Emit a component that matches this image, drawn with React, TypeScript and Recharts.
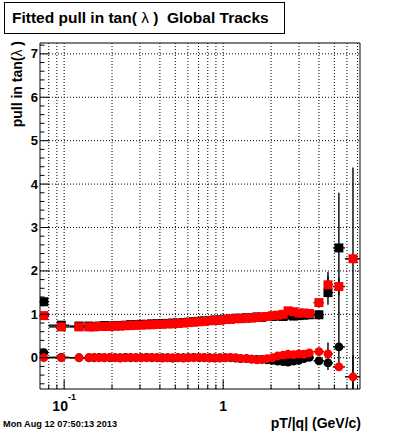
import React from 'react';
import { ScatterChart, Scatter, XAxis, YAxis, ReferenceLine, ReferenceArea, ErrorBar } from 'recharts';

// pT/|q| bin centres (GeV/c)
const pt = [0.0745, 0.096, 0.124,
  0.143, 0.154, 0.166, 0.179, 0.194, 0.209,
  0.225, 0.243, 0.262, 0.283, 0.305,
  0.330, 0.356, 0.384, 0.414, 0.447, 0.482,
  0.520, 0.561, 0.605, 0.653, 0.705,
  0.760, 0.820, 0.885, 0.955,
  1.03, 1.11, 1.20, 1.29, 1.40,
  1.51, 1.63, 1.75, 1.89,
  2.04, 2.20, 2.38, 2.56, 2.77, 2.99, 3.22, 3.48,
  4.0, 4.56, 5.34, 6.55];

const blackSigma: (number | null)[] = [1.29, 0.75, 0.73,
  0.73, 0.72, 0.73, 0.74, 0.73, 0.74,
  0.74, 0.75, 0.76, 0.76, 0.77,
  0.77, 0.78, 0.78, 0.79, 0.79, 0.80,
  0.80, 0.81, 0.82, 0.83, 0.84,
  0.85, 0.86, 0.87, 0.87,
  0.89, 0.89, 0.91, 0.91, 0.92,
  0.92, 0.94, 0.93, 0.95,
  0.95, 0.96, 0.95, 0.98, 0.96, 0.97, 0.98, 0.99,
  0.99, 1.50, 2.53, null];

const redSigma: (number | null)[] = [0.97, 0.71, 0.71,
  0.71, 0.71, 0.72, 0.72, 0.72, 0.73,
  0.73, 0.74, 0.74, 0.75, 0.75,
  0.76, 0.76, 0.77, 0.77, 0.78, 0.78,
  0.79, 0.80, 0.81, 0.82, 0.83,
  0.84, 0.85, 0.86, 0.87,
  0.88, 0.89, 0.90, 0.90, 0.91,
  0.92, 0.93, 0.94, 0.95,
  0.97, 0.98, 1.00, 1.08, 1.06, 1.03, 1.03, 1.02,
  1.27, 1.68, 1.64, 2.28];

const blackMean: (number | null)[] = [0.12, 0.01, 0.0,
  0.0, 0.0, 0.01, 0.0, 0.0, 0.0,
  0.0, 0.01, 0.0, 0.0, 0.0,
  0.01, 0.0, 0.0, 0.0, 0.0, -0.01,
  0.0, 0.0, 0.0, 0.01, 0.0,
  0.0, 0.0, -0.01, 0.0,
  0.0, 0.0, -0.01, -0.02, -0.02,
  -0.03, -0.04, -0.04, -0.05,
  -0.06, -0.08, -0.09, -0.10, -0.08, -0.06, -0.02, 0.01,
  -0.07, -0.12, 0.25, null];

const redMean: (number | null)[] = [0.0, 0.0, 0.0,
  0.0, 0.01, 0.0, 0.0, 0.01, 0.0,
  -0.01, 0.0, 0.01, 0.0, 0.0,
  0.0, 0.01, 0.0, -0.01, 0.0, 0.0,
  0.0, -0.01, 0.0, 0.0, 0.01,
  0.0, -0.01, 0.0, -0.01,
  0.0, 0.01, 0.0, -0.02, -0.02,
  -0.03, -0.05, -0.04, -0.02,
  0.0, 0.04, 0.06, 0.08, 0.07, 0.09, 0.08, 0.11,
  0.14, 0.09, -0.21, -0.44];

// horizontal (bin width) errors: index -> [low, high]
const xErrors: Record<number, [number, number]> = {
  0: [0.0045, 0.0055], 1: [0.016, 0.012], 2: [0.016, 0.017],
  46: [0.3, 0.3], 47: [0.26, 0.34], 48: [0.44, 0.49], 49: [0.72, 0.7],
};
// vertical errors: index -> [low, high]
const blackSigmaErr: Record<number, [number, number]> = { 47: [0.28, 0.48], 48: [1.5, 1.27] };
const redSigmaErr: Record<number, [number, number]> = { 47: [0.2, 0.2], 48: [0.2, 0.2], 49: [3.0, 2.1] };
const blackMeanErr: Record<number, [number, number]> = { 47: [0.16, 0.47], 48: [0.55, 0.8] };
const redMeanErr: Record<number, [number, number]> = { 49: [0.28, 0.5] };

const xDomain: [number, number] = [0.0705, 7.25];
const yDomain: [number, number] = [-0.72, 7.25];
const xTicks = [0.08, 0.09, 0.1, 0.2, 0.3, 0.4, 0.5, 0.6, 0.7, 0.8, 0.9, 1, 2, 3, 4, 5, 6, 7];
const xMajor = [0.1, 1];
const yMajor = [0, 1, 2, 3, 4, 5, 6, 7];
const yTicks = [-0.6, -0.4, -0.2, 0, 0.2, 0.4, 0.6, 0.8, 1, 1.2, 1.4, 1.6, 1.8, 2, 2.2, 2.4, 2.6, 2.8, 3,
  3.2, 3.4, 3.6, 3.8, 4, 4.2, 4.4, 4.6, 4.8, 5, 5.2, 5.4, 5.6, 5.8, 6, 6.2, 6.4, 6.6, 6.8, 7, 7.2];

const FONT = '"Liberation Sans", Arial, Helvetica, sans-serif';

function build(vals: (number | null)[], yErr: Record<number, [number, number]>) {
  const out: any[] = [];
  pt.forEach((x, i) => {
    const y = vals[i];
    if (y === null || y === undefined) return;
    out.push({ x, y, ex: xErrors[i] ?? [0, 0], ey: yErr[i] ?? [0, 0] });
  });
  return out;
}

const blackSigmaData = build(blackSigma, blackSigmaErr);
const redSigmaData = build(redSigma, redSigmaErr);
const blackMeanData = build(blackMean, blackMeanErr);
const redMeanData = build(redMean, redMeanErr);

const squareShape = (color: string) => (p: any) => (
  <rect x={p.cx - 4.5} y={p.cy - 4.5} width={9} height={9} fill={color} />
);
const circleShape = (color: string) => (p: any) => (
  <circle cx={p.cx} cy={p.cy} r={4.4} fill={color} />
);

const XTick = (props: any) => {
  const { x, y, payload } = props;
  const v = payload.value;
  const major = xMajor.some((m) => Math.abs(m - v) < 1e-9);
  return (
    <g>
      <line x1={x} x2={x} y1={y} y2={y - (major ? 9 : 4.5)} stroke="#000" />
      {Math.abs(v - 0.1) < 1e-9 && (
        <text x={x} y={y + 22} textAnchor="middle" fontFamily={FONT} fontWeight="bold" fontSize={14} fill="#000">
          10<tspan dy={-11} fontSize={9}>-1</tspan>
        </text>
      )}
      {Math.abs(v - 1) < 1e-9 && (
        <text x={x} y={y + 22} textAnchor="middle" fontFamily={FONT} fontWeight="bold" fontSize={14} fill="#000">
          1
        </text>
      )}
    </g>
  );
};

const YTick = (props: any) => {
  const { x, y, payload } = props;
  const v = payload.value;
  const major = yMajor.some((m) => Math.abs(m - v) < 1e-9);
  return (
    <g>
      <line x1={x} x2={x + (major ? 9 : 4.5)} y1={y} y2={y} stroke="#000" />
      {major && (
        <text x={x - 2} y={y + 4.5} textAnchor="end" fontFamily={FONT} fontWeight="bold" fontSize={13} fill="#000">
          {v}
        </text>
      )}
    </g>
  );
};

const errProps = { width: 0, stroke: '#000', strokeWidth: 1.4 };

export default function App() {
  return (
    <div style={{ position: 'absolute', left: 0, top: 0, width: 400, height: 433, background: '#fff' }}>
      <ScatterChart width={400} height={433} margin={{ top: 43, right: 40, bottom: 0, left: 0 }}>
        <XAxis
          type="number"
          dataKey="x"
          scale="log"
          domain={xDomain}
          allowDataOverflow
          ticks={xTicks}
          interval={0}
          tick={(p: any) => <XTick {...p} />}
          tickLine={false}
          axisLine={false}
          tickSize={0}
          tickMargin={0}
          height={44}
        />
        <YAxis
          type="number"
          dataKey="y"
          domain={yDomain}
          allowDataOverflow
          ticks={yTicks}
          interval={0}
          tick={(p: any) => <YTick {...p} />}
          tickLine={false}
          axisLine={false}
          tickSize={0}
          tickMargin={0}
          width={40}
        />
        {yMajor.map((v) => (
          <ReferenceLine key={'gy' + v} y={v} stroke="#000" strokeDasharray="1 2" />
        ))}
        {xTicks.map((v) => (
          <ReferenceLine key={'gx' + v} x={v} stroke="#000" strokeDasharray="1 2" />
        ))}
        <Scatter data={blackSigmaData} isAnimationActive={false} shape={squareShape('#000')}>
          <ErrorBar dataKey="ey" direction="y" {...errProps} />
          <ErrorBar dataKey="ex" direction="x" {...errProps} />
        </Scatter>
        <Scatter data={blackMeanData} isAnimationActive={false} shape={circleShape('#000')}>
          <ErrorBar dataKey="ey" direction="y" {...errProps} />
          <ErrorBar dataKey="ex" direction="x" {...errProps} />
        </Scatter>
        <Scatter data={redSigmaData} isAnimationActive={false} shape={squareShape('#ff0000')}>
          <ErrorBar dataKey="ey" direction="y" {...errProps} />
          <ErrorBar dataKey="ex" direction="x" {...errProps} />
        </Scatter>
        <Scatter data={redMeanData} isAnimationActive={false} shape={circleShape('#ff0000')}>
          <ErrorBar dataKey="ey" direction="y" {...errProps} />
          <ErrorBar dataKey="ex" direction="x" {...errProps} />
        </Scatter>
        <ReferenceArea
          x1={xDomain[0]}
          x2={xDomain[1]}
          y1={yDomain[0]}
          y2={yDomain[1]}
          fill="none"
          fillOpacity={0}
          stroke="#000"
          strokeWidth={1}
          ifOverflow="visible"
        />
      </ScatterChart>
      <svg width={400} height={433} style={{ position: 'absolute', left: 0, top: 0, pointerEvents: 'none' }}>
        <rect x={4.5} y={2.5} width={280} height={31} fill="#fff" stroke="#000" strokeWidth={1} />
        <text x={12} y={23} fontFamily={FONT} fontWeight="bold" fontSize={15.5} fill="#000" style={{ whiteSpace: 'pre' }}>
          {'Fitted pull in tan( '}
          <tspan fontWeight="normal">λ</tspan>
          {' )  Global Tracks'}
        </text>
        <text
          x={22}
          y={41}
          transform="rotate(-90 22 41)"
          textAnchor="end"
          fontFamily={FONT}
          fontWeight="bold"
          fontSize={14}
          fill="#000"
          style={{ whiteSpace: 'pre' }}
        >
          {'pull in tan('}
          <tspan fontWeight="normal">λ</tspan>
          {' )'}
        </text>
        <text x={361} y={428} textAnchor="end" fontFamily={FONT} fontWeight="bold" fontSize={14} fill="#000">
          pT/|q| (GeV/c)
        </text>
        <text x={3} y={427} fontFamily={FONT} fontWeight="bold" fontSize={9.2} fill="#000">
          Mon Aug 12 07:50:13 2013
        </text>
      </svg>
    </div>
  );
}
